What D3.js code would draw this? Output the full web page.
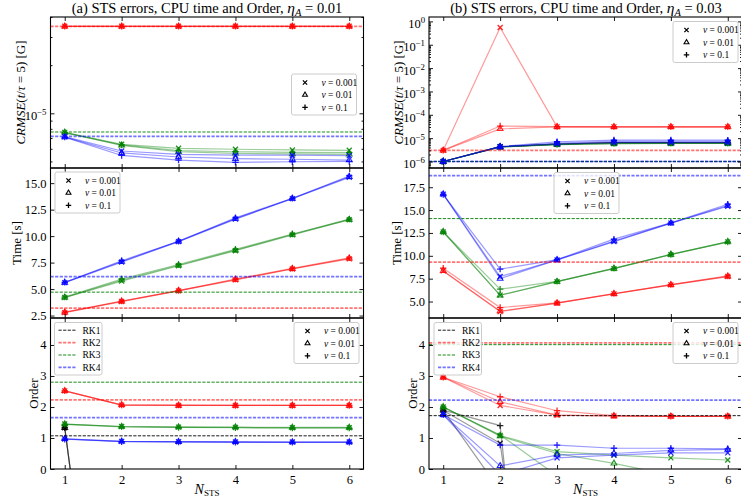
<!DOCTYPE html>
<html><head><meta charset="utf-8">
<script src="https://cdn.jsdelivr.net/npm/d3@7"></script>
<style>
body{margin:0;background:#fff}
svg{display:block}
text{font-family:"Liberation Serif",serif;fill:#000}
</style>
</head><body>
<svg id="chart" width="741" height="500"></svg>
<script>
// ---------------- data ----------------
const nSTS = [1, 2, 3, 4, 5, 6];
const nuLabels = ["0.001", "0.01", "0.1"];
const methods = ["RK1", "RK2", "RK3", "RK4"];
const methodColors = ["#000000", "#ff0000", "#008000", "#0000ff"];

// (a) eta_A = 0.01 — CRMSE(t/tau=5); rows: nu = 0.001, 0.01, 0.1
const errA_RK2 = [
  [3.5e-5, 3.5e-5, 3.5e-5, 3.5e-5, 3.5e-5, 3.5e-5],
  [3.5e-5, 3.5e-5, 3.5e-5, 3.5e-5, 3.5e-5, 3.5e-5],
  [3.5e-5, 3.5e-5, 3.5e-5, 3.5e-5, 3.5e-5, 3.5e-5]];
const errA_RK3 = [
  [7.6e-6, 6.4e-6, 6.04e-6, 5.96e-6, 5.9e-6, 5.87e-6],
  [7.6e-6, 6.3e-6, 5.75e-6, 5.62e-6, 5.57e-6, 5.54e-6],
  [7.55e-6, 6.35e-6, 5.85e-6, 5.75e-6, 5.7e-6, 5.68e-6]];
const errA_RK4 = [
  [7.14e-6, 5.81e-6, 5.54e-6, 5.47e-6, 5.47e-6, 5.44e-6],
  [7.1e-6, 5.65e-6, 5.33e-6, 5.2e-6, 5.16e-6, 5.1e-6],
  [7.1e-6, 5.45e-6, 5.1e-6, 4.94e-6, 4.98e-6, 5.0e-6]];
const refErrA = [null, 3.5e-5, 7.64e-6, 7.18e-6];

// (a) CPU time [s]
const timeA_RK2 = [
  [2.78, 3.82, 4.83, 5.87, 6.9, 7.85],
  [2.8, 3.85, 4.85, 5.9, 6.92, 7.9],
  [2.82, 3.86, 4.86, 5.95, 6.95, 7.95]];
const timeA_RK3 = [
  [4.2, 5.75, 7.2, 8.62, 10.12, 11.55],
  [4.22, 5.85, 7.25, 8.67, 10.15, 11.56],
  [4.24, 5.95, 7.32, 8.75, 10.2, 11.6]];
const timeA_RK4 = [
  [5.61, 7.55, 9.48, 11.6, 13.54, 15.55],
  [5.62, 7.6, 9.5, 11.65, 13.55, 15.6],
  [5.63, 7.68, 9.52, 11.72, 13.57, 15.68]];
const refTimeA = [null, 3.2, 4.71, 6.18];

// (a) order
const ordA_RK1 = [
  [1.33, -12.5, -12, -12, -12, -12],
  [1.33, -12.5, -12, -12, -12, -12],
  [1.33, -12.5, -12, -12, -12, -12]];
const ordA_RK2 = [
  [2.52, 2.06, 2.05, 2.05, 2.05, 2.05],
  [2.52, 2.07, 2.05, 2.05, 2.05, 2.05],
  [2.52, 2.06, 2.06, 2.05, 2.05, 2.05]];
const ordA_RK3 = [
  [1.45, 1.37, 1.35, 1.34, 1.33, 1.33],
  [1.45, 1.37, 1.35, 1.35, 1.34, 1.34],
  [1.44, 1.36, 1.34, 1.33, 1.32, 1.32]];
const ordA_RK4 = [
  [0.97, 0.89, 0.88, 0.87, 0.87, 0.87],
  [0.97, 0.89, 0.88, 0.88, 0.87, 0.87],
  [0.96, 0.88, 0.87, 0.86, 0.86, 0.86]];
const refOrdA = [1.07, 2.23, 2.80, 1.66];

// (b) eta_A = 0.03 — CRMSE(t/tau=5)
const errB_RK1 = [
  [1.0e-6, 4.3e-6, 5.6e-6, 6.4e-6, 6.4e-6, 6.4e-6],
  [1.0e-6, 4.2e-6, 5.6e-6, 6.4e-6, 6.4e-6, 6.4e-6],
  [1.0e-6, 4.3e-6, 5.6e-6, 6.4e-6, 6.4e-6, 6.4e-6]];
const errB_RK2 = [
  [3.0e-6, 0.55, 3.05e-5, 3.05e-5, 3.05e-5, 3.05e-5],
  [3.0e-6, 2.5e-5, 3.05e-5, 3.05e-5, 3.05e-5, 3.05e-5],
  [3.0e-6, 3.3e-5, 3.1e-5, 3.05e-5, 3.05e-5, 3.05e-5]];
const errB_RK3 = [
  [1.0e-6, 4.2e-6, 5.3e-6, 5.8e-6, 5.9e-6, 5.9e-6],
  [1.0e-6, 4.2e-6, 5.3e-6, 5.8e-6, 5.9e-6, 5.9e-6],
  [1.0e-6, 4.3e-6, 5.4e-6, 5.9e-6, 6.0e-6, 6.0e-6]];
const errB_RK4 = [
  [1.0e-6, 4.3e-6, 5.6e-6, 6.4e-6, 6.4e-6, 6.4e-6],
  [1.0e-6, 4.2e-6, 6.2e-6, 7.3e-6, 7.3e-6, 7.3e-6],
  [1.0e-6, 4.4e-6, 7.0e-6, 8.3e-6, 8.3e-6, 8.2e-6]];
const refErrB = [1.0e-6, 3.0e-6, 1.0e-6, 1.0e-6];

// (b) CPU time [s]
const timeB_RK2 = [
  [8.35, 3.9, 4.82, 5.84, 6.82, 7.73],
  [8.35, 3.95, 4.83, 5.85, 6.83, 7.75],
  [8.65, 4.34, 4.85, 5.86, 6.85, 7.8]];
const timeB_RK3 = [
  [12.61, 5.7, 7.18, 8.6, 10.13, 11.52],
  [12.63, 5.68, 7.18, 8.62, 10.15, 11.55],
  [12.6, 6.35, 7.2, 8.63, 10.15, 11.5]];
const timeB_RK4 = [
  [16.73, 7.73, 9.55, 11.55, 13.57, 15.42],
  [16.75, 7.51, 9.55, 11.6, 13.57, 15.5],
  [16.7, 8.54, 9.58, 11.82, 13.6, 15.64]];
const refTimeB = [null, 9.3, 14.07, 18.77];

// (b) order
const ordB_RK1 = [
  [1.89, 0.83, -12, -12, -12, -12],
  [1.9, -0.7, -12, -12, -12, -12],
  [1.9, 1.4, -16, -16, -16, -16]];
const ordB_RK2 = [
  [2.96, 2.05, 1.74, 1.71, 1.70, 1.70],
  [2.96, 2.17, 1.74, 1.71, 1.70, 1.70],
  [2.96, 2.33, 1.88, 1.72, 1.70, 1.70]];
const ordB_RK3 = [
  [2.0, 1.08, 0.56, 0.45, 0.36, 0.29],
  [2.0, 1.06, 0.5, 0.18, -0.2, -0.5],
  [2.0, 1.1, -0.22, -1, -1, -1]];
const ordB_RK4 = [
  [1.75, -0.2, 0.36, 0.45, 0.52, 0.52],
  [1.75, 0.1, 0.45, 0.5, 0.6, 0.63],
  [1.75, 0.77, 0.77, 0.67, 0.67, 0.65]];
const refOrdB = [1.72, 4.07, 4.01, 2.22];

// axis ticks
const xTicks = [1, 2, 3, 4, 5, 6];
const timeTicksA = [2.5, 5.0, 7.5, 10.0, 12.5, 15.0];
const timeTicksB = [5.0, 7.5, 10.0, 12.5, 15.0, 17.5];
const orderTicks = [0, 1, 2, 3, 4];

// ---------------- layout ----------------
const svg = d3.select("#chart");
const cols = [{x0: 50.5, x1: 363.5}, {x0: 429, x1: 742}];
const rows = [{y0: 17, y1: 168}, {y0: 168, y1: 318}, {y0: 318, y1: 469}];
const TICK_FONT = 12.5;
const LEG_FONT = 9.5;

const panels = [
  {c: 0, r: 0, kind: "log", domain: [4.55e-6, 4.0e-5], series: [null, errA_RK2, errA_RK3, errA_RK4], refs: refErrA,
   nuLegend: [291.5, 74]},
  {c: 0, r: 1, kind: "lin", domain: [2.27, 16.43], ticks: timeTicksA, fmt: d3.format(".1f"),
   series: [null, timeA_RK2, timeA_RK3, timeA_RK4], refs: refTimeA, nuLegend: [55, 172]},
  {c: 0, r: 2, kind: "lin", domain: [0, 4.87], ticks: orderTicks, fmt: d3.format("d"),
   series: [ordA_RK1, ordA_RK2, ordA_RK3, ordA_RK4], refs: refOrdA, nuLegend: [294, 322.5], rkLegend: [54.5, 322.5], xlabels: true},
  {c: 1, r: 0, kind: "log", domain: [Math.pow(10, -6.278), Math.pow(10, 0.188)], series: [errB_RK1, errB_RK2, errB_RK3, errB_RK4], refs: refErrB,
   nuLegend: [673, 21.5]},
  {c: 1, r: 1, kind: "lin", domain: [3.2, 19.6], ticks: timeTicksB, fmt: d3.format(".1f"),
   series: [null, timeB_RK2, timeB_RK3, timeB_RK4], refs: refTimeB, nuLegend: [554, 172.5]},
  {c: 1, r: 2, kind: "lin", domain: [0, 4.87], ticks: orderTicks, fmt: d3.format("d"),
   series: [ordB_RK1, ordB_RK2, ordB_RK3, ordB_RK4], refs: refOrdB, nuLegend: [673, 322.5], rkLegend: [434, 322.5], xlabels: true}
];

function markerShape(g, k, cx, cy, color, s) {
  s = s || 1;
  if (k === 0) {
    const h = 2.5 * s;
    g.append("path").attr("d", `M${cx-h},${cy-h}L${cx+h},${cy+h}M${cx-h},${cy+h}L${cx+h},${cy-h}`)
      .attr("stroke", color).attr("stroke-width", 1.3).attr("fill", "none");
  } else if (k === 1) {
    const r = 3.3 * s;
    g.append("path").attr("d", `M${cx},${cy-r}L${cx+r*0.87},${cy+r*0.5}L${cx-r*0.87},${cy+r*0.5}Z`)
      .attr("stroke", color).attr("stroke-width", 1.1).attr("fill", "none");
  } else {
    const h = 3.2 * s;
    g.append("path").attr("d", `M${cx-h},${cy}L${cx+h},${cy}M${cx},${cy-h}L${cx},${cy+h}`)
      .attr("stroke", color).attr("stroke-width", 1.3).attr("fill", "none");
  }
}

function refStyle(i) {
  return (i === 1 || i === 3) ? {w: 1.8, a: 0.55, dash: "3.2,1.4"} : {w: 1.0, a: 0.9, dash: "3.2,1.4"};
}

function nuLegend(parent, x, y) {
  const g = parent.append("g");
  g.append("rect").attr("x", x).attr("y", y).attr("width", 65).attr("height", 41).attr("rx", 2)
    .attr("fill", "#fff").attr("fill-opacity", 0.8).attr("stroke", "#cccccc").attr("stroke-width", 1);
  nuLabels.forEach((lab, i) => {
    const cy = y + 8.5 + i * 12.4;
    markerShape(g, i, x + 13.5, cy, "#000", 0.85);
    const t = g.append("text").attr("x", x + 30).attr("y", cy + 3.3).attr("font-size", LEG_FONT);
    t.append("tspan").attr("font-style", "italic").text("ν");
    t.append("tspan").text(" = " + lab);
  });
}

function rkLegend(parent, x, y) {
  const g = parent.append("g");
  g.append("rect").attr("x", x).attr("y", y).attr("width", 47.5).attr("height", 52.5).attr("rx", 2)
    .attr("fill", "#fff").attr("fill-opacity", 0.8).attr("stroke", "#cccccc").attr("stroke-width", 1);
  methods.forEach((m, i) => {
    const cy = y + 7.7 + i * 12.4;
    const st = refStyle(i);
    g.append("line").attr("x1", x + 4).attr("x2", x + 22).attr("y1", cy).attr("y2", cy)
      .attr("stroke", methodColors[i]).attr("stroke-width", st.w).attr("stroke-opacity", st.a)
      .attr("stroke-dasharray", st.dash);
    g.append("text").attr("x", x + 28).attr("y", cy + 3.3).attr("font-size", LEG_FONT).text(m);
  });
}

panels.forEach((p, pi) => {
  const col = cols[p.c], row = rows[p.r];
  const x = d3.scaleLinear().domain([0.75, 6.25]).range([col.x0, col.x1]);
  const y = (p.kind === "log" ? d3.scaleLog() : d3.scaleLinear()).domain(p.domain).range([row.y1, row.y0]);
  const g = svg.append("g");
  const clipId = "clip" + pi;
  svg.append("clipPath").attr("id", clipId).append("rect")
    .attr("x", col.x0).attr("y", row.y0).attr("width", col.x1 - col.x0).attr("height", row.y1 - row.y0);
  const plot = g.append("g").attr("clip-path", `url(#${clipId})`);

  // series lines and markers, one line per nu
  const line = d3.line().x((d, i) => x(nSTS[i])).y(d => y(d));
  p.series.forEach((s, mi) => {
    if (!s) return;
    s.forEach((vals, ni) => {
      plot.append("path").attr("d", line(vals)).attr("fill", "none")
        .attr("stroke", methodColors[mi]).attr("stroke-width", 1.2).attr("stroke-opacity", 0.4);
      const mg = plot.append("g").attr("opacity", 0.85);
      vals.forEach((v, i) => {
        const py = y(v);
        if (py < row.y0 - 6 || py > row.y1 + 6) return;
        markerShape(mg, ni, x(nSTS[i]), py, methodColors[mi]);
      });
    });
  });

  // reference levels
  p.refs.forEach((v, mi) => {
    if (v == null) return;
    const st = refStyle(mi);
    plot.append("line").attr("x1", col.x0).attr("x2", col.x1).attr("y1", y(v)).attr("y2", y(v))
      .attr("stroke", methodColors[mi]).attr("stroke-width", st.w).attr("stroke-opacity", st.a)
      .attr("stroke-dasharray", st.dash);
  });

  // axes, ticks pointing inward on all four sides
  const ax = g.append("g");
  ax.append("g").attr("transform", `translate(0,${row.y1})`)
    .call(d3.axisBottom(x).tickValues(xTicks).tickSizeInner(-4).tickSizeOuter(0).tickPadding(6)
      .tickFormat(p.xlabels ? d3.format("d") : () => ""));
  ax.append("g").attr("transform", `translate(0,${row.y0})`)
    .call(d3.axisTop(x).tickValues(xTicks).tickSizeInner(-4).tickSizeOuter(0).tickFormat(() => ""));

  if (p.kind === "log") {
    const lo = Math.floor(Math.log10(p.domain[0])), hi = Math.ceil(Math.log10(p.domain[1]));
    const majors = [], minors = [];
    for (let e = lo; e <= hi; e++) {
      const b = Math.pow(10, e);
      if (b >= p.domain[0] && b <= p.domain[1]) majors.push(b);
      for (let k = 2; k <= 9; k++) {
        const v = k * b;
        if (v >= p.domain[0] && v <= p.domain[1]) minors.push(v);
      }
    }
    const left = ax.append("g").attr("transform", `translate(${col.x0},0)`)
      .call(d3.axisLeft(y).tickValues(majors).tickSizeInner(-4).tickSizeOuter(0).tickPadding(4));
    left.selectAll(".tick text").each(function(d) {
      const t = d3.select(this).text("10").attr("dy", "0.5em");
      t.append("tspan").attr("dy", "-0.6em").attr("font-size", "0.7em")
        .text(String(Math.round(Math.log10(d))).replace("-", "−"));
    });
    ax.append("g").attr("transform", `translate(${col.x0},0)`)
      .call(d3.axisLeft(y).tickValues(minors).tickSizeInner(-2).tickSizeOuter(0).tickFormat(() => ""));
    ax.append("g").attr("transform", `translate(${col.x1},0)`)
      .call(d3.axisRight(y).tickValues(majors).tickSizeInner(-4).tickSizeOuter(0).tickFormat(() => ""));
    ax.append("g").attr("transform", `translate(${col.x1},0)`)
      .call(d3.axisRight(y).tickValues(minors).tickSizeInner(-2).tickSizeOuter(0).tickFormat(() => ""));
  } else {
    ax.append("g").attr("transform", `translate(${col.x0},0)`)
      .call(d3.axisLeft(y).tickValues(p.ticks).tickFormat(p.fmt).tickSizeInner(-4).tickSizeOuter(0).tickPadding(4));
    ax.append("g").attr("transform", `translate(${col.x1},0)`)
      .call(d3.axisRight(y).tickValues(p.ticks).tickSizeInner(-4).tickSizeOuter(0).tickFormat(() => ""));
  }
  ax.selectAll(".domain").remove();
  ax.selectAll(".tick line").attr("stroke", "#000").attr("stroke-width", 0.9);
  ax.selectAll(".tick text").attr("font-family", "Liberation Serif").attr("font-size", TICK_FONT).attr("fill", "#000");

  // frame
  g.append("rect").attr("x", col.x0).attr("y", row.y0).attr("width", col.x1 - col.x0).attr("height", row.y1 - row.y0)
    .attr("fill", "none").attr("stroke", "#000").attr("stroke-width", 1.1);

  if (p.rkLegend) rkLegend(g, p.rkLegend[0], p.rkLegend[1]);
  if (p.nuLegend) nuLegend(g, p.nuLegend[0], p.nuLegend[1]);
});

// ---------------- titles and axis labels ----------------
function title(cx, prefix, eta) {
  const t = svg.append("text").attr("x", cx).attr("y", 13).attr("text-anchor", "middle").attr("font-size", 14.5);
  t.append("tspan").text(prefix);
  t.append("tspan").attr("font-style", "italic").attr("font-size", 15.5).text("η");
  t.append("tspan").attr("font-style", "italic").attr("font-size", 10.5).attr("dy", 3).text("A");
  t.append("tspan").attr("font-size", 14.5).attr("dy", -3).text(" = " + eta);
}
title((cols[0].x0 + cols[0].x1) / 2, "(a) STS errors, CPU time and Order, ", "0.01");
title(586, "(b) STS errors, CPU time and Order, ", "0.03");

function ylabelErr(x, cy) {
  const t = svg.append("text").attr("transform", `translate(${x},${cy}) rotate(-90)`)
    .attr("text-anchor", "middle").attr("font-size", 13);
  t.append("tspan").attr("font-style", "italic").text("CRMSE");
  t.append("tspan").text("(");
  t.append("tspan").attr("font-style", "italic").text("t");
  t.append("tspan").text("/");
  t.append("tspan").attr("font-style", "italic").text("τ");
  t.append("tspan").text(" = 5) [G]");
}
function ylabel(x, cy, txt) {
  svg.append("text").attr("transform", `translate(${x},${cy}) rotate(-90)`)
    .attr("text-anchor", "middle").attr("font-size", 13).text(txt);
}
ylabelErr(24.5, 92.5);
ylabelErr(402.5, 92.5);
ylabel(21, 243, "Time [s]");
ylabel(401, 243, "Time [s]");
ylabel(37.5, 393.5, "Order");
ylabel(417, 393.5, "Order");

function xlabel(cx) {
  const t = svg.append("text").attr("x", cx).attr("y", 493.5).attr("text-anchor", "middle");
  t.append("tspan").attr("font-style", "italic").attr("font-size", 14).text("N");
  t.append("tspan").attr("font-size", 9).attr("dy", 2.5).text("STS");
}
xlabel(207);
xlabel(585.5);
</script>
</body></html>
